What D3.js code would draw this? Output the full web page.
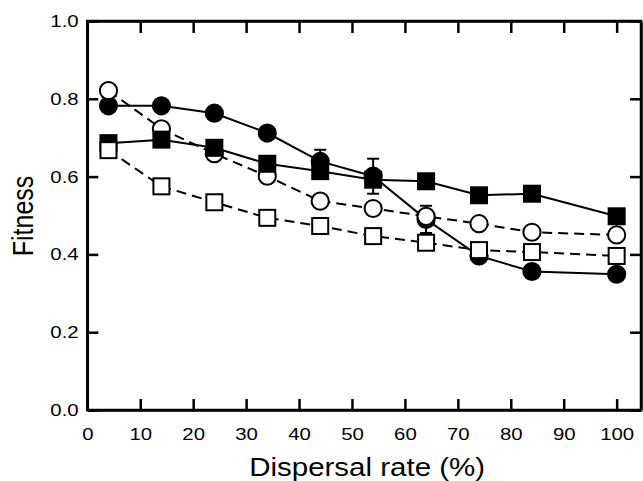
<!DOCTYPE html>
<html><head><meta charset="utf-8">
<script src="https://cdn.jsdelivr.net/npm/d3@7"></script>
<style>
body{margin:0;background:#fff;}
svg text{font-family:"Liberation Sans",Arial,Helvetica,sans-serif;fill:#000;}
</style></head>
<body><svg id="c" width="643" height="481"></svg>
<script>
const dispersal = [4, 14, 24, 34, 44, 54, 64, 74, 84, 100];
const filledCircle = [0.782, 0.782, 0.763, 0.712, 0.639, 0.601, 0.490, 0.396, 0.356, 0.349];
const filledCircleErr = [0, 0, 0, 0, 0.030, 0.045, 0.035, 0, 0, 0];
const openCircle = [0.821, 0.723, 0.659, 0.601, 0.537, 0.518, 0.498, 0.479, 0.457, 0.450];
const filledSquare = [0.686, 0.695, 0.674, 0.633, 0.614, 0.592, 0.588, 0.552, 0.556, 0.498];
const openSquare = [0.668, 0.575, 0.534, 0.494, 0.473, 0.447, 0.430, 0.411, 0.406, 0.396];
const xTicks = [0, 10, 20, 30, 40, 50, 60, 70, 80, 90, 100];
const yTicks = [0.0, 0.2, 0.4, 0.6, 0.8, 1.0];
const xTitle = "Dispersal rate (%)";
const yTitle = "Fitness";

const svg = d3.select("#c");
const L = 87.3, R = 641, T = 21, B = 410;
const x = d3.scaleLinear().domain([0, 104.6]).range([L, R]);
const y = d3.scaleLinear().domain([0, 1]).range([B, T]);

function styleAxis(g){
  g.select(".domain").attr("stroke","#000").attr("stroke-width",2.5);
  g.selectAll(".tick line").attr("stroke","#000").attr("stroke-width",2.5);
  g.selectAll(".tick text").attr("font-size",17)
    .style("font-family",'"Liberation Sans",Arial,sans-serif')
    .style("transform-box","fill-box").style("transform-origin","center")
    .style("transform","scaleX(1.2)");
}
svg.append("g").attr("transform",`translate(0,${B})`)
  .call(d3.axisBottom(x).tickValues(xTicks).tickSize(-11).tickSizeOuter(0).tickPadding(18).tickFormat(d3.format("d")))
  .call(styleAxis);
svg.append("g").attr("transform",`translate(0,${T})`)
  .call(d3.axisTop(x).tickValues(xTicks).tickSize(-12).tickSizeOuter(0).tickFormat(""))
  .call(styleAxis);
svg.append("g").attr("transform",`translate(${L},0)`)
  .call(d3.axisLeft(y).tickValues(yTicks).tickSize(-11).tickSizeOuter(0).tickPadding(11).tickFormat(d3.format(".1f")))
  .call(styleAxis);
svg.append("g").attr("transform",`translate(${R},0)`)
  .call(d3.axisRight(y).tickValues(yTicks).tickSize(-11).tickSizeOuter(0).tickFormat(""))
  .call(styleAxis);
// square corners
svg.append("rect").attr("x",L).attr("y",T).attr("width",R-L).attr("height",B-T)
  .attr("fill","none").attr("stroke","#000").attr("stroke-width",2.5);

const line = d3.line().x((d,i)=>x(dispersal[i])).y(d=>y(d));

function drawSeries(vals, shape, filled, dashed, errs){
  const g = svg.append("g");
  g.append("path").datum(vals).attr("d",line).attr("fill","none")
    .attr("stroke","#000").attr("stroke-width",2)
    .attr("stroke-dasharray",dashed?"10,6":null);
  if(errs){
    vals.forEach((v,i)=>{
      if(!errs[i]) return;
      const cx = x(dispersal[i]);
      const y1 = y(v+errs[i]), y2 = y(v-errs[i]);
      g.append("line").attr("x1",cx).attr("x2",cx).attr("y1",y1).attr("y2",y2)
        .attr("stroke","#000").attr("stroke-width",2);
      [y1,y2].forEach(yy=>g.append("line").attr("x1",cx-6).attr("x2",cx+6).attr("y1",yy).attr("y2",yy)
        .attr("stroke","#000").attr("stroke-width",2));
    });
  }
  vals.forEach((v,i)=>{
    const cx = x(dispersal[i]), cy = y(v);
    if(shape==="circle"){
      g.append("circle").attr("cx",cx).attr("cy",cy).attr("r",8.6)
        .attr("fill",filled?"#000":"#fff").attr("stroke","#000").attr("stroke-width",2);
    } else {
      const s = 16;
      g.append("rect").attr("x",cx-s/2).attr("y",cy-s/2).attr("width",s).attr("height",s)
        .attr("fill",filled?"#000":"#fff").attr("stroke","#000").attr("stroke-width",2);
    }
  });
}
drawSeries(filledCircle,"circle",true,false,filledCircleErr);
drawSeries(openCircle,"circle",false,true,null);
drawSeries(filledSquare,"square",true,false,null);
drawSeries(openSquare,"square",false,true,null);

svg.append("text").attr("x",(L+R)/2+3).attr("y",476).attr("text-anchor","middle")
  .attr("font-size",25)
  .style("transform-box","fill-box").style("transform-origin","center").style("transform","scaleX(1.18)")
  .text(xTitle);
svg.append("text").attr("transform","translate(33,216) rotate(-90) scale(1,1.18)")
  .attr("text-anchor","middle").attr("font-size",25).text(yTitle);
</script></body></html>
